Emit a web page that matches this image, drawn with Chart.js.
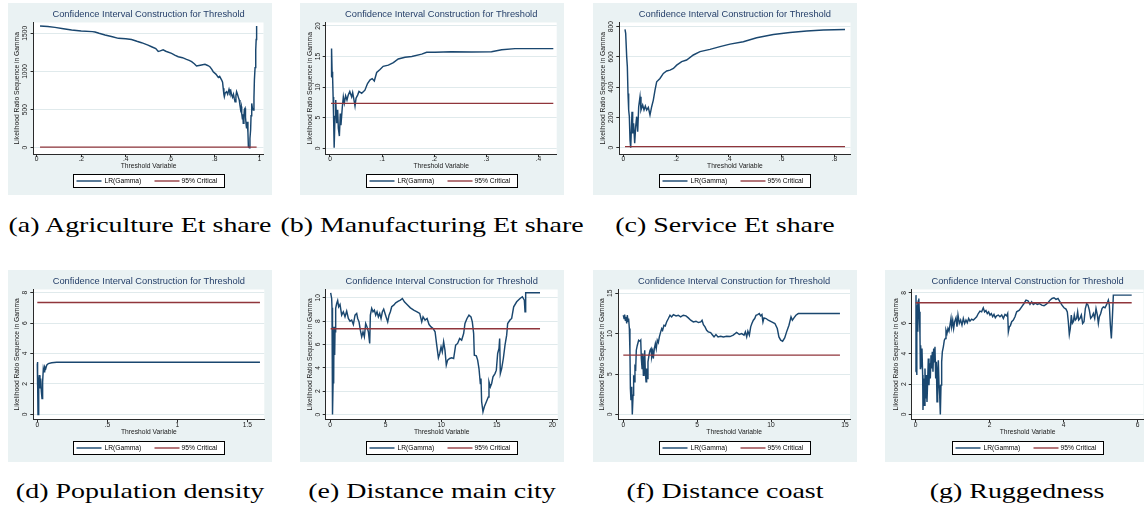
<!DOCTYPE html>
<html>
<head>
<meta charset="utf-8">
<title>Confidence Interval Construction for Threshold</title>
<script src="https://cdn.jsdelivr.net/npm/chart.js@4/dist/chart.umd.min.js"></script>
<style>
  html, body { margin: 0; padding: 0; background: #ffffff; overflow: hidden; width: 1144px; height: 508px; }
  #page { position: relative; width: 1144px; height: 508px; overflow: hidden; }
  .panel { position: absolute; width: 264px; height: 192px; background: #EAF2F3; }
  .panel canvas { display: block; }
  .cap { position: absolute; font-family: "Liberation Serif", "Times New Roman", serif; font-size: 21px;
         color: #000; white-space: nowrap; line-height: 1; transform: translate(-50%, -50%) scaleX(1.33); }
</style>
</head>
<body>
<div id="page"></div>
<script>
// ---- Series: threshold value (x) and likelihood-ratio statistic LR(gamma) ----
const agriX = [0.015,0.05,0.082,0.12,0.157,0.2,0.25,0.262,0.28,0.307,
  0.34,0.367,0.4,0.426,0.45,0.471,0.5,0.516,0.535,0.546,
  0.555,0.568,0.58,0.606,0.62,0.636,0.655,0.673,0.685,0.696,
  0.708,0.718,0.735,0.756,0.768,0.778,0.786,0.793,0.805,0.816,
  0.822,0.831,0.835,0.838,0.841,0.843,0.847,0.853,0.858,0.864,
  0.868,0.872,0.876,0.88,0.884,0.888,0.891,0.895,0.898,0.902,
  0.906,0.91,0.913,0.916,0.919,0.921,0.924,0.926,0.928,0.931,
  0.933,0.936,0.938,0.941,0.943,0.946,0.949,0.951,0.955,0.958,
  0.961,0.963,0.966,0.969,0.973,0.976,0.978,0.981,0.984,0.986,
  0.988];
const agriLR = [1595,1588,1578,1560,1543,1530,1522,1517,1500,1477,
  1455,1434,1428,1418,1395,1377,1345,1324,1300,1262,
  1270,1283,1265,1237,1215,1193,1180,1158,1145,1128,
  1100,1071,1082,1093,1078,1062,1030,997,965,922,
  935,887,860,778,700,669,720,734,700,765,
  720,745,690,660,700,640,603,680,734,700,
  660,625,560,500,540,450,380,440,319,420,
  500,516,400,300,253,340,200,13,0,120,
  232,420,581,520,494,650,887,1050,1281,1420,
  1595];

const manuX = [0.002,0.003,0.004,0.005,0.006,0.007,0.008,0.0096,0.011,0.0128,
  0.0147,0.016,0.018,0.0198,0.021,0.0237,0.0256,0.0275,0.03,0.0326,
  0.035,0.038,0.0416,0.0435,0.046,0.048,0.05,0.053,0.0557,0.0608,
  0.067,0.072,0.077,0.081,0.085,0.0896,0.096,0.102,0.112,0.1216,
  0.131,0.144,0.157,0.176,0.1855,0.2015,0.2335,0.272,0.31,0.3295,
  0.355,0.4,0.4286];
const manuLR = [11.7,16.3,12.5,11.7,8.4,4.6,0.1,5.2,7.9,4.1,
  6.3,3.3,2.0,5.7,3.8,6.8,8.4,7.4,8.6,7.9,
  8.7,9.3,8.4,9.1,7.9,6.9,8.2,8.7,9.3,9.0,
  9.5,10.6,11.2,11.4,11.0,12.4,12.9,13.4,13.6,14.0,
  14.6,14.9,15.0,15.4,15.7,15.7,15.8,15.75,15.8,16.1,
  16.3,16.3,16.3];

const servX = [0.0064,0.009,0.0128,0.0153,0.0178,0.0203,0.0229,0.0254,0.028,0.0305,
  0.033,0.0355,0.039,0.0431,0.0469,0.0507,0.0545,0.0583,0.0633,0.067,
  0.0734,0.0785,0.0835,0.0886,0.0948,0.1012,0.1075,0.1138,0.1202,0.1265,
  0.139,0.1518,0.1644,0.177,0.19,0.2024,0.2213,0.24,0.2655,0.2908,
  0.3287,0.3666,0.4046,0.455,0.5057,0.5689,0.632,0.6955,0.7585,0.8406];
const servLR = [782,756,602,535,359,249,205,51,0,117,
  238,95,161,29,139,205,106,271,337,249,
  282,249,275,249,267,216,271,315,381,436,
  458,491,507,513,524,546,569,580,613,635,
  650,668,685,701,727,749,762,771,778,782];

const popX = [0,0.001,0.002,0.003,0.005,0.01,0.0145,0.019,0.024,0.029,
  0.0336,0.038,0.043,0.048,0.0526,0.06,0.067,0.079,0.1026,0.138,
  0.48,1.59];
const popLR = [3.34,1.92,3.45,2.36,0,2.14,2.58,1.7,2.36,1.49,
  1.05,2.14,3.0,2.8,3.13,3.0,3.23,3.34,3.39,3.43,
  3.43,3.43];

const cityX = [0.06,0.15,0.18,0.21,0.24,0.3,0.33,0.36,0.42,0.45,
  0.51,0.6,0.69,0.78,0.9,1.05,1.2,1.35,1.5,1.65,
  1.8,1.95,2.1,2.25,2.4,2.49,2.61,2.73,2.85,2.97,
  3.09,3.21,3.33,3.45,3.57,3.63,3.75,3.87,3.99,4.11,
  4.23,4.35,4.47,4.59,4.71,4.83,4.95,5.07,5.19,5.31,
  5.43,5.55,5.73,5.91,6.15,6.33,6.51,6.69,6.93,7.23,
  7.53,7.83,8.07,8.25,8.37,8.55,8.73,8.91,9.09,9.27,
  9.45,9.6,9.75,9.87,9.99,10.1,10.22,10.34,10.46,10.58,
  10.76,10.94,11.12,11.3,11.48,11.66,11.84,12.02,12.14,12.32,
  12.5,12.68,12.8,12.92,12.98,13.16,13.28,13.4,13.52,13.58,
  13.64,13.76,13.88,14.0,14.12,14.24,14.3,14.42,14.54,14.66,
  14.84,14.96,15.08,15.2,15.26,15.32,15.44,15.59,15.74,15.89,
  15.98,16.19,16.34,16.52,16.79,17.09,17.3,17.48,17.54,17.6,
  18.89];
const cityLR = [10.43,9.94,9.14,7.37,0,3.94,2.66,7.51,5.09,7.09,
  9.09,9.51,9.77,9.23,9.43,8.51,8.8,8.37,8.86,8.23,
  8.0,8.09,7.71,8.51,8.66,8.23,7.94,7.23,6.66,7.09,
  6.66,7.8,7.51,7.09,6.09,8.51,9.09,8.8,8.94,8.51,
  8.8,8.37,8.66,8.23,8.8,9.03,8.66,8.29,7.94,8.51,
  8.8,9.23,9.37,9.57,9.71,9.8,9.94,9.66,9.43,9.14,
  8.94,8.8,8.66,7.94,8.37,8.09,8.23,7.71,7.51,7.37,
  7.09,5.94,4.86,5.23,5.8,5.37,6.23,5.51,4.23,4.66,
  4.8,4.86,4.8,5.94,6.09,6.51,6.37,6.94,7.8,8.23,
  8.51,8.37,7.94,6.94,5.09,5.03,4.66,3.94,2.66,3.09,
  1.09,0.23,0.66,0.94,1.23,1.51,2.8,2.37,2.66,3.23,
  3.51,3.8,5.23,5.66,6.51,3.51,3.94,4.8,5.94,6.8,
  7.8,8.09,8.23,9.23,9.66,9.94,10.09,9.8,8.8,10.43,
  10.43];

const coastX = [0,0.05,0.09,0.14,0.18,0.23,0.27,0.32,0.36,0.41,
  0.45,0.48,0.52,0.57,0.61,0.66,0.7,0.75,0.79,0.84,
  0.88,0.95,1.04,1.13,1.18,1.22,1.27,1.31,1.36,1.4,
  1.45,1.49,1.54,1.58,1.63,1.67,1.74,1.81,1.88,1.92,
  1.99,2.03,2.1,2.17,2.23,2.3,2.37,2.44,2.53,2.6,
  2.66,2.75,2.84,2.93,3.05,3.16,3.27,3.39,3.57,3.72,
  3.88,4.06,4.24,4.4,4.56,4.74,4.92,5.08,5.24,5.33,
  5.42,5.53,5.64,5.75,5.91,6.05,6.14,6.27,6.41,6.59,
  6.77,6.99,7.22,7.44,7.67,7.85,8.01,8.17,8.26,8.35,
  8.43,8.53,8.62,8.7,8.8,8.89,8.98,9.09,9.2,9.29,
  9.38,9.45,9.52,9.66,9.81,10.04,10.26,10.42,10.53,10.65,
  10.78,10.92,11.05,11.21,11.35,11.44,11.55,11.68,11.84,14.66];
const coastLR = [12.28,11.87,12.36,11.66,12.07,11.25,12.28,11.54,11.87,10.63,
  7.75,3.21,1.77,3.42,0,2.39,4.86,4.04,5.89,5.69,
  7.95,8.57,9.19,9.06,9.19,6.92,5.69,7.54,4.86,6.51,
  7.95,5.27,4.04,5.69,4.45,6.51,7.33,7.95,8.16,7.13,
  7.75,6.92,8.16,8.78,8.16,9.19,8.9,9.6,10.22,10.63,
  10.42,11.04,10.96,11.45,11.87,12.28,12.07,12.36,12.2,12.28,
  12.07,12.28,12.2,11.95,11.66,11.45,11.54,11.37,11.45,11.66,
  11.12,10.84,10.42,10.22,10.14,9.81,9.6,9.89,9.6,9.68,
  9.6,9.68,9.64,9.81,10.14,9.89,10.01,9.81,10.22,9.6,
  10.3,9.81,10.84,11.25,11.66,11.87,12.28,12.36,12.48,12.2,
  12.36,11.45,11.95,11.87,11.66,11.45,11.25,10.63,9.6,9.19,
  9.06,9.48,10.22,11.04,12.07,11.66,11.95,12.28,12.48,12.48];

const ruggX = [0,0.008,0.017,0.026,0.035,0.044,0.053,0.062,0.071,0.08,
  0.089,0.098,0.116,0.125,0.134,0.152,0.17,0.188,0.197,0.215,
  0.233,0.251,0.269,0.287,0.305,0.323,0.341,0.359,0.377,0.395,
  0.414,0.431,0.449,0.467,0.486,0.503,0.521,0.54,0.558,0.576,
  0.594,0.612,0.63,0.648,0.666,0.684,0.702,0.72,0.747,0.774,
  0.8,0.819,0.846,0.873,0.9,0.927,0.954,0.972,1.0,1.026,
  1.053,1.089,1.116,1.143,1.179,1.215,1.251,1.287,1.323,1.359,
  1.395,1.431,1.467,1.512,1.557,1.602,1.647,1.692,1.737,1.782,
  1.827,1.863,1.899,1.935,1.971,2.008,2.044,2.08,2.116,2.152,
  2.188,2.233,2.278,2.324,2.369,2.414,2.459,2.486,2.504,2.531,
  2.558,2.594,2.639,2.684,2.729,2.801,2.864,2.927,2.981,3.035,
  3.089,3.134,3.179,3.234,3.288,3.342,3.405,3.468,3.522,3.576,
  3.63,3.684,3.738,3.792,3.846,3.9,3.954,4.008,4.062,4.098,
  4.125,4.152,4.179,4.206,4.233,4.26,4.287,4.314,4.35,4.377,
  4.405,4.441,4.477,4.513,4.549,4.585,4.621,4.657,4.693,4.729,
  4.765,4.802,4.838,4.874,4.91,4.937,4.964,5.0,5.036,5.072,
  5.117,5.162,5.207,5.234,5.261,5.288,5.315,5.342,5.838];
const ruggLR = [2.81,7.85,5.22,2.59,7.19,6.1,7.41,5.44,7.52,6.32,
  7.63,6.75,5.22,3.03,4.56,3.14,4.34,2.59,0.29,2.37,
  0.61,3.03,1.05,2.59,0.83,2.15,3.68,1.93,3.36,2.37,
  3.9,3.03,4.12,2.81,4.34,3.46,4.45,2.37,3.46,0.83,
  2.81,3.57,1.93,1.27,0,1.93,3.46,4.12,4.45,4.89,
  5.0,5.55,5.33,5.66,5.48,5.88,6.32,5.77,6.21,5.66,
  6.1,6.36,5.77,6.54,5.99,6.21,5.88,6.32,5.99,6.21,
  6.03,6.32,6.14,6.27,6.21,6.32,6.43,6.64,6.8,6.75,
  7.02,6.75,6.84,6.64,6.75,6.54,6.64,6.43,6.58,6.36,
  6.49,6.54,6.43,6.54,6.32,6.58,6.49,6.64,5.44,5.77,
  5.83,6.1,6.21,6.43,6.75,6.86,7.08,7.3,7.52,7.48,
  7.24,7.41,7.24,7.32,7.24,7.3,7.19,7.15,7.24,7.35,
  7.52,7.63,7.68,7.57,7.63,7.41,7.19,7.02,6.93,6.75,
  6.1,5.26,5.66,6.54,5.99,6.1,6.54,6.21,6.32,6.75,
  6.21,6.32,6.54,5.99,6.1,6.97,7.3,7.19,6.86,6.32,
  6.43,6.64,6.32,6.97,6.54,5.99,6.43,6.64,6.97,7.08,
  7.02,7.24,7.52,7.19,5.88,5.0,6.32,7.85,7.85];

// 95% critical value of the LR statistic
const critical = 7.35;

// ---- Tick labels (values are read back from the label text) ----
const agriXTicks = ['0', '.2', '.4', '.6', '.8', '1'];
const agriYTicks = ['0', '500', '1000', '1500'];
const manuXTicks = ['0', '.1', '.2', '.3', '.4'];
const manuYTicks = ['0', '5', '10', '15', '20'];
const servXTicks = ['0', '.2', '.4', '.6', '.8'];
const servYTicks = ['0', '200', '400', '600', '800'];
const popXTicks = ['0', '.5', '1', '1.5'];
const popYTicks = ['0', '2', '4', '6', '8'];
const cityXTicks = ['0', '5', '10', '15', '20'];
const cityYTicks = ['0', '2', '4', '6', '8', '10'];
const coastXTicks = ['0', '5', '10', '15'];
const coastYTicks = ['0', '5', '10', '15'];
const ruggXTicks = ['0', '2', '4', '6'];
const ruggYTicks = ['0', '2', '4', '6', '8'];

const seriesNames = ['LR(Gamma)', '95% Critical'];
const chartTitle = 'Confidence Interval Construction for Threshold';
const xTitle = 'Threshold Variable';
const yTitle = 'Likelihood Ratio Sequence in Gamma';

// ---- Look ----
const NAVY = '#1A476F';
const MAROON = '#90353B';
const TITLE_COLOR = '#26406A';
const TEXT = '#1a1a1a';
const AXIS = '#2a2a2a';
const GRID = '#E0EAEC';
const SANS = '"Liberation Sans", Arial, Helvetica, sans-serif';
const SMALL = 6.7;
const PW = 264, PH = 192, XH = 20;

// ---- Panel layout: box = top-left of the graph region, area = plot region
//      [left, top, right, bottom] in page pixels, xr/yr = axis ranges ----
const panels = [
  { cap: '(a) Agriculture Et share', x: agriX, y: agriLR, xt: agriXTicks, yt: agriYTicks,
    box: [8, 3], area: [33.6, 22.5, 263.5, 154], xr: [-0.0139, 1.0189], yr: [-82.6, 1641.6], capY: 225 },
  { cap: '(b) Manufacturing Et share', x: manuX, y: manuLR, xt: manuXTicks, yt: manuYTicks,
    box: [300, 3], area: [325.7, 22.5, 556.7, 154], xr: [-0.00825, 0.4351], yr: [-0.93, 20.57], capY: 225 },
  { cap: '(c) Service Et share', x: servX, y: servLR, xt: servXTicks, yt: servYTicks,
    box: [593, 3], area: [619.3, 22.5, 850.5, 154], xr: [-0.0152, 0.8614], yr: [-41.7, 827.8], capY: 225 },
  { cap: '(d) Population density', x: popX, y: popLR, xt: popXTicks, yt: popYTicks,
    box: [8, 269.5], area: [33.3, 289, 264.3, 418.7], xr: [-0.0286, 1.621], yr: [-0.31, 8.2], capY: 491 },
  { cap: '(e) Distance main city', x: cityX, y: cityLR, xt: cityXTicks, yt: cityYTicks,
    box: [300, 269.5], area: [325.7, 289, 557.7, 418.7], xr: [-0.387, 20.48], yr: [-0.40, 10.71], capY: 491 },
  { cap: '(f) Distance coast', x: coastX, y: coastLR, xt: coastXTicks, yt: coastYTicks,
    box: [593, 269.5], area: [618.3, 289, 850, 418.7], xr: [-0.338, 15.34], yr: [-0.58, 15.46], capY: 491 },
  { cap: '(g) Ruggedness', x: ruggX, y: ruggLR, xt: ruggXTicks, yt: ruggYTicks,
    box: [885, 269.5], area: [911.7, 289, 1143.5, 418.7], xr: [-0.108, 6.157], yr: [-0.31, 8.22], capY: 491 }
];

// White plot region, Stata-style title, rotated y tick labels and boxed legend
function decorFor(p) {
  return {
    id: 'decor',
    beforeDraw(chart) {
      const a = chart.chartArea, ctx = chart.ctx;
      ctx.save();
      ctx.fillStyle = '#ffffff';
      ctx.fillRect(a.left, a.top, a.right - a.left, a.bottom - a.top);
      ctx.restore();
    },
    afterDraw(chart) {
      const a = chart.chartArea, ctx = chart.ctx;
      const cx = (a.left + a.right) / 2;
      ctx.save();

      ctx.font = '9.3px ' + SANS;
      ctx.fillStyle = TITLE_COLOR;
      ctx.textAlign = 'center';
      ctx.textBaseline = 'middle';
      ctx.fillText(chartTitle, cx, 11.8);

      const ys = chart.scales.y;
      ctx.font = SMALL + 'px ' + SANS;
      ctx.fillStyle = TEXT;
      ys.ticks.forEach((t, i) => {
        const py = ys.getPixelForValue(t.value);
        ctx.save();
        ctx.translate(a.left - 8, py);
        ctx.rotate(-Math.PI / 2);
        ctx.fillText(p.yt[i], 0, 0);
        ctx.restore();
      });

      const LW = 151, LHt = 13;
      const lx = Math.round(cx - LW / 2) + 0.5, ly = 171.5;
      ctx.fillStyle = '#ffffff';
      ctx.fillRect(lx, ly, LW, LHt);
      ctx.strokeStyle = '#000000';
      ctx.lineWidth = 1;
      ctx.strokeRect(lx, ly, LW, LHt);
      const keyX = [3, 81], textX = [31, 108];
      chart.data.datasets.forEach((ds, i) => {
        const my = ly + LHt / 2;
        ctx.strokeStyle = ds.borderColor;
        ctx.lineWidth = ds.borderWidth;
        ctx.beginPath();
        ctx.moveTo(lx + keyX[i], my);
        ctx.lineTo(lx + keyX[i] + 25, my);
        ctx.stroke();
        ctx.fillStyle = '#000000';
        ctx.textAlign = 'left';
        ctx.fillText(ds.label, lx + textX[i], my + 0.3);
      });
      ctx.restore();
    }
  };
}

const page = document.getElementById('page');
const lh = SMALL * 1.2;

panels.forEach(p => {
  const div = document.createElement('div');
  div.className = 'panel';
  div.style.left = p.box[0] + 'px';
  div.style.top = p.box[1] + 'px';
  const canvas = document.createElement('canvas');
  canvas.width = PW;
  canvas.height = PH;
  div.appendChild(canvas);
  page.appendChild(div);

  const cap = document.createElement('div');
  cap.className = 'cap';
  cap.textContent = p.cap;
  cap.style.left = (p.box[0] + PW / 2) + 'px';
  cap.style.top = p.capY + 'px';
  page.appendChild(cap);

  const relL = p.area[0] - p.box[0];
  const relT = p.area[1] - p.box[1];
  const relR = p.area[2] - p.box[0];
  const relB = p.area[3] - p.box[1];

  new Chart(canvas, {
    type: 'line',
    data: {
      datasets: [
        { label: seriesNames[0], data: p.x.map((v, i) => ({ x: v, y: p.y[i] })),
          borderColor: NAVY, borderWidth: 1.45, pointRadius: 0, tension: 0, order: 2 },
        { label: seriesNames[1], data: [{ x: p.x[0], y: critical }, { x: p.x[p.x.length - 1], y: critical }],
          borderColor: MAROON, borderWidth: 1.35, pointRadius: 0, tension: 0, order: 1 }
      ]
    },
    options: {
      responsive: false,
      animation: false,
      devicePixelRatio: 1,
      events: [],
      layout: { padding: { left: 0, top: relT, right: PW - relR, bottom: PH - relB - XH } },
      plugins: { legend: { display: false }, title: { display: false }, tooltip: { enabled: false } },
      scales: {
        x: {
          type: 'linear', min: p.xr[0], max: p.xr[1],
          afterBuildTicks: s => { s.ticks = p.xt.map(t => ({ value: Number(t) })); },
          afterFit: s => { s.height = XH; },
          ticks: { autoSkip: false, minRotation: 0, maxRotation: 0, padding: -0.8, color: TEXT,
                   font: { family: SANS, size: SMALL, lineHeight: 1 },
                   callback: (v, i) => p.xt[i] },
          grid: { display: true, drawOnChartArea: false, drawTicks: true, tickLength: 3, tickColor: AXIS, tickWidth: 1 },
          border: { display: true, color: AXIS, width: 1 },
          title: { display: true, text: xTitle, color: TEXT, font: { family: SANS, size: SMALL },
                   padding: { top: 0, bottom: XH - 12.5 - lh / 2 } }
        },
        y: {
          type: 'linear', min: p.yr[0], max: p.yr[1],
          afterBuildTicks: s => { s.ticks = p.yt.map(t => ({ value: Number(t) })); },
          afterFit: s => { s.width = relL; },
          ticks: { display: false },
          grid: { display: true, color: GRID, lineWidth: 1, drawTicks: true, tickLength: 3, tickColor: AXIS, tickWidth: 1 },
          border: { display: true, color: AXIS, width: 1 },
          title: { display: true, text: yTitle, color: TEXT, font: { family: SANS, size: SMALL },
                   padding: { top: relL - 16 - lh / 2, bottom: 0 } }
        }
      }
    },
    plugins: [decorFor(p)]
  });
});
</script>
</body>
</html>
